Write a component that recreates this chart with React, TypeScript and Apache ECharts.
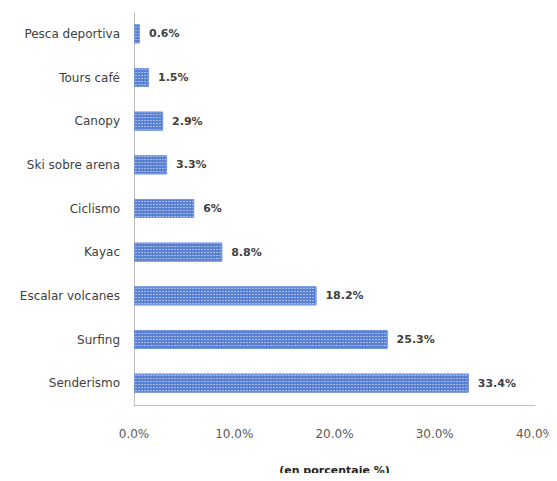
import React, { useEffect, useRef } from "react";
import * as echarts from "echarts";

const categories = [
  "Pesca deportiva",
  "Tours café",
  "Canopy",
  "Ski sobre arena",
  "Ciclismo",
  "Kayac",
  "Escalar volcanes",
  "Surfing",
  "Senderismo",
];
const values = [0.6, 1.5, 2.9, 3.3, 6, 8.8, 18.2, 25.3, 33.4];
const valueLabels = ["0.6%", "1.5%", "2.9%", "3.3%", "6%", "8.8%", "18.2%", "25.3%", "33.4%"];
const axisTitle = "(en porcentaje %)";

export default function App() {
  const ref = useRef<HTMLDivElement>(null);
  useEffect(() => {
    if (!ref.current) return;
    const chart = echarts.init(ref.current, undefined, { renderer: "svg" });
    const font = "DejaVu Sans";
    chart.setOption({
      animation: false,
      backgroundColor: "#ffffff",
      grid: { left: 134, right: 20, top: 12, bottom: 66, containLabel: false },
      xAxis: {
        type: "value",
        min: 0,
        max: 40,
        interval: 10,
        name: axisTitle,
        nameLocation: "middle",
        nameGap: 60,
        nameTextStyle: { fontFamily: font, fontSize: 11, color: "#222", fontWeight: "bold" },
        axisLine: { show: true, lineStyle: { color: "#bfbfbf", width: 1 } },
        axisTick: { show: false },
        splitLine: { show: false },
        axisLabel: {
          margin: 23,
          fontFamily: font,
          fontSize: 12,
          color: "#595959",
          formatter: (v: number) => v.toFixed(1) + "%",
        },
      },
      yAxis: {
        type: "category",
        inverse: true,
        data: categories,
        axisLine: { show: true, lineStyle: { color: "#bfbfbf", width: 1 } },
        axisTick: { show: false },
        axisLabel: { margin: 14, fontFamily: font, fontSize: 12, color: "#404040" },
      },
      series: [
        {
          type: "bar",
          data: values,
          barWidth: 19,
          itemStyle: {
            color: "#5a80d2",
            borderColor: "#7697dc",
            borderWidth: 1,
            decal: {
              symbol: "rect",
              symbolSize: 1,
              dashArrayX: [2, 1],
              dashArrayY: [1, 2],
              color: "rgba(255,255,255,0.45)",
            },
          },
          label: {
            show: true,
            position: "right",
            distance: 9,
            fontFamily: font,
            fontSize: 11,
            fontWeight: "bold",
            color: "#404040",
            formatter: (p: any) => valueLabels[p.dataIndex],
          },
        },
      ],
    });
    return () => chart.dispose();
  }, []);
  return <div ref={ref} style={{ width: 557, height: 481, margin: -8 }} />;
}
